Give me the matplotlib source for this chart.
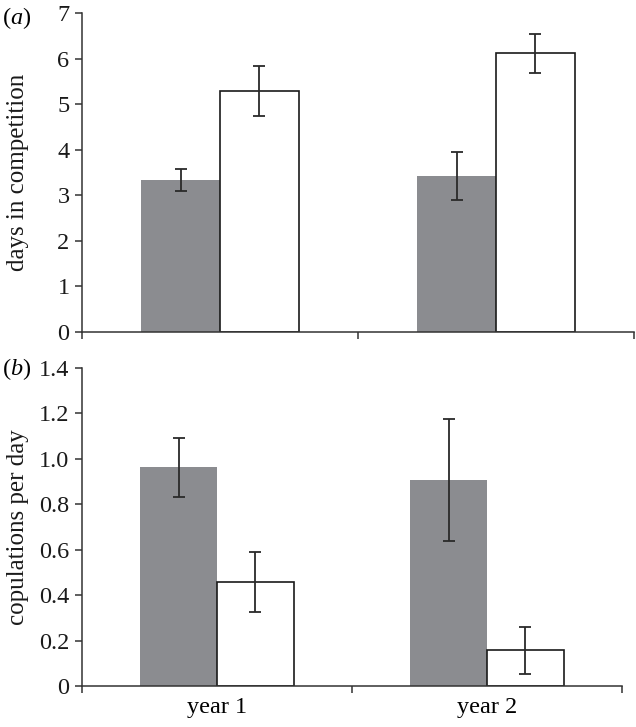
import matplotlib
matplotlib.use("Agg")
import matplotlib.pyplot as plt
import numpy as np

plt.rcParams['font.family'] = ['Liberation Serif', 'DejaVu Serif']
plt.rcParams['mathtext.fontset'] = 'custom'
plt.rcParams['mathtext.it'] = 'Liberation Serif:italic'
plt.rcParams['mathtext.rm'] = 'Liberation Serif'

categories = ["year 1", "year 2"]
days_grey = [3.335, 3.42]
days_grey_err = [0.235, 0.53]
days_white = [5.29, 6.12]
days_white_err = [0.545, 0.435]
cop_grey = [0.962, 0.907]
cop_grey_err = [0.128, 0.267]
cop_white = [0.458, 0.158]
cop_white_err = [0.131, 0.103]
days_ticks = [0, 1, 2, 3, 4, 5, 6, 7]
cop_ticks = [0, 0.2, 0.4, 0.6, 0.8, 1.0, 1.2, 1.4]
cop_ticklabels = ["0", "0.2", "0.4", "0.6", "0.8", "1.0", "1.2", "1.4"]

W, H = 636, 727
fig = plt.figure(figsize=(W/100, H/100), dpi=100)
ax1 = fig.add_axes([82/W, 1-331.7/H, 552/W, 318.4/H])
ax2 = fig.add_axes([82/W, 1-686/H, 540/W, 318/H])

grey = '#8b8c90'
edge = '#2a2a2a'
bw = 0.285
FS = 17.5

def draw(ax, g, ge, w, we, ylim, yticks, ylabels, ylabel):
    x = np.arange(len(categories))
    ax.bar(x - bw/2, g, bw, color=grey, edgecolor='none', zorder=2)
    ax.bar(x + bw/2, w, bw, color='white', edgecolor='#1a1a1a', linewidth=1.2, zorder=2)
    ax.errorbar(x - bw/2, g, yerr=ge, fmt='none', ecolor=edge, elinewidth=1.3, capsize=4, capthick=1.3, zorder=3)
    ax.errorbar(x + bw/2, w, yerr=we, fmt='none', ecolor=edge, elinewidth=1.3, capsize=4, capthick=1.3, zorder=3)
    ax.set_xlim(-0.5, len(categories) - 0.5)
    ax.set_ylim(*ylim)
    ax.set_yticks(yticks)
    ax.set_yticklabels(ylabels, fontsize=FS)
    ax.set_xticks([-0.5, 0.5, 1.5])
    ax.set_xticklabels([])
    for s in ['top', 'right']:
        ax.spines[s].set_visible(False)
    for s in ['left', 'bottom']:
        ax.spines[s].set_color('#333333')
        ax.spines[s].set_linewidth(1.1)
    ax.tick_params(axis='both', direction='out', length=5, width=1.1, color='#333333', labelcolor='#1a1a1a')
    ax.tick_params(axis='y', pad=4)
    ax.set_ylabel(ylabel, fontsize=18, color='#1a1a1a')

draw(ax1, days_grey, days_grey_err, days_white, days_white_err, (0, 7), days_ticks,
     [str(t) for t in days_ticks], "days in competition")
draw(ax2, cop_grey, cop_grey_err, cop_white, cop_white_err, (0, 1.4), cop_ticks,
     cop_ticklabels, "copulations per day")

ax2.set_xticks(np.arange(len(categories)), minor=True)
ax2.set_xticklabels(categories, minor=True, fontsize=FS)
ax2.tick_params(axis='x', which='minor', length=0, pad=8)

ax1.yaxis.set_label_coords((29-82)/552, 0.5)
ax2.yaxis.set_label_coords((29-82)/540, 0.5)

fig.text(2/W, 1-18/H, r"($\mathit{a}$)", fontsize=FS, va='center', ha='left')
fig.text(2/W, 1-369/H, r"($\mathit{b}$)", fontsize=FS, va='center', ha='left')

fig.savefig("out.png", dpi=100)
